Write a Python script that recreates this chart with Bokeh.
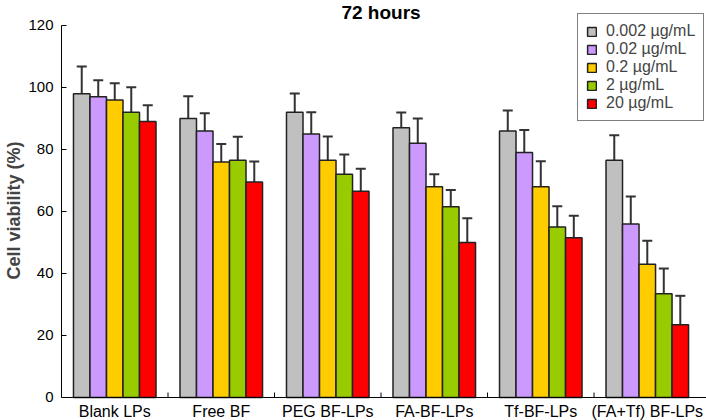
from bokeh.plotting import figure
from bokeh.models import (ColumnDataSource, Whisker, TeeHead, Legend, LegendItem,
                          FixedTicker, Range1d, Label, Span)
from bokeh.core.properties import value
from bokeh.embed import file_html
from bokeh.resources import INLINE

groups = ["Blank LPs", "Free BF", "PEG BF-LPs", "FA-BF-LPs", "Tf-BF-LPs", "(FA+Tf) BF-LPs"]
series = ["0.002 \u00b5g/mL", "0.02 \u00b5g/mL", "0.2 \u00b5g/mL", "2 \u00b5g/mL", "20 \u00b5g/mL"]
colors = ["#C0C0C0", "#CC99FF", "#FFCC00", "#99CC00", "#FF0000"]

v_0002 = [98, 90, 92, 87, 86, 76.5]
v_002 = [97, 86, 85, 82, 79, 56]
v_02 = [96, 76, 76.5, 68, 68, 43]
v_2 = [92, 76.5, 72, 61.5, 55, 33.5]
v_20 = [89, 69.5, 66.5, 50, 51.5, 23.5]

e_0002 = [8.8, 7.2, 6.1, 4.9, 6.6, 8.1]
e_002 = [5.3, 5.7, 7.0, 8.0, 7.3, 8.8]
e_02 = [5.4, 5.8, 7.7, 4.0, 8.2, 7.6]
e_2 = [8.1, 7.6, 6.4, 5.4, 6.7, 8.1]
e_20 = [5.3, 6.6, 7.3, 7.8, 7.1, 9.3]

yticks = [0, 20, 40, 60, 80, 100, 120]

values = [v_0002, v_002, v_02, v_2, v_20]
errors = [e_0002, e_002, e_02, e_2, e_20]

FONT = "Liberation Sans"
bw = 0.155

# frame spans the full canvas height; value 0 at y=397, 120 at y=25
p = figure(width=706, height=420, output_backend="svg", toolbar_location=None,
           x_range=Range1d(0, 6.056), y_range=Range1d(-7.42, 128.06),
           x_axis_location=None,
           min_border_left=61, min_border_right=0, min_border_top=0, min_border_bottom=0)
p.outline_line_color = None
p.grid.visible = False

items = []
for k, (vals, errs, col, name) in enumerate(zip(values, errors, colors, series)):
    xs = [i + 0.5 + (k - 2) * bw for i in range(len(groups))]
    src = ColumnDataSource(dict(x=xs, top=vals, hi=[v + e for v, e in zip(vals, errs)]))
    r = p.vbar(x="x", top="top", width=bw, source=src, fill_color=col,
               line_color="#222222", line_width=1.5)
    w = Whisker(base="x", lower="top", upper="hi", source=src, line_width=2,
                line_color="#333333",
                upper_head=TeeHead(size=10, line_width=2, line_color="#333333"),
                lower_head=None)
    p.add_layout(w)
    items.append(LegendItem(label=name, renderers=[r]))

# category (x) axis drawn inside the frame
p.add_layout(Span(location=0, dimension="width", line_color="black", line_width=1))
bounds = list(range(1, len(groups)))
p.segment(x0=bounds, y0=[0] * len(bounds), x1=bounds, y1=[1.6] * len(bounds),
          line_color="black", line_width=1)
centers = [i + 0.5 for i in range(len(groups))]
p.text(x=centers, y=[0] * len(groups), text=groups, y_offset=6,
       text_align="center", text_baseline="top", text_font=value(FONT),
       text_font_size="16px", text_color="black")

legend = Legend(items=items, location=(516, 299), border_line_color="black",
                border_line_width=1, background_fill_color="white",
                label_text_font=FONT, label_text_font_size="16px",
                glyph_width=11, glyph_height=11, label_height=16, spacing=0,
                padding=8, margin=0, label_standoff=9)
p.add_layout(legend, "center")

title = Label(x=3, y=408, x_units="data", y_units="screen", text="72 hours",
              text_align="center", text_baseline="middle", text_font=FONT,
              text_font_size="19px", text_font_style="bold", text_color="black")
p.add_layout(title)

# y axis
ya = p.yaxis[0]
ya.ticker = FixedTicker(ticks=yticks)
ya.bounds = (0, 120)
ya.major_tick_in = 5
ya.major_tick_out = 0
ya.minor_tick_line_color = None
ya.major_label_text_font = FONT
ya.major_label_text_font_size = "15px"
ya.major_label_text_color = "black"
ya.major_label_standoff = 8
ya.axis_line_color = "black"
ya.major_tick_line_color = "black"
ya.axis_label = "Cell viability (%)"
ya.axis_label_text_font = FONT
ya.axis_label_text_font_size = "18px"
ya.axis_label_text_font_style = "bold"
ya.axis_label_standoff = 1

open("out.html", "w").write(file_html(p, INLINE))
